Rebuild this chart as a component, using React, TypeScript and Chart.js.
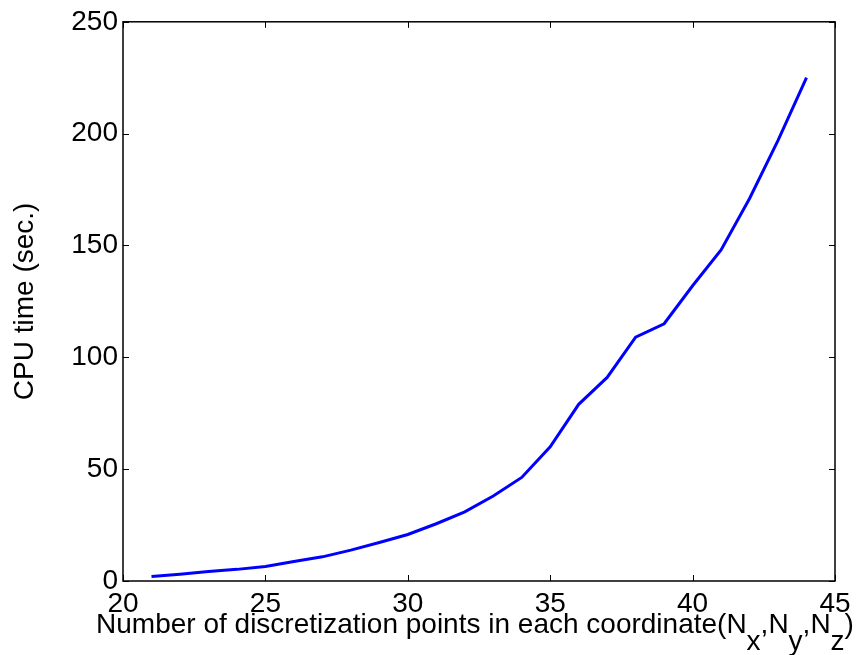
import React, { useEffect, useRef } from "react";
import { Chart, registerables } from "chart.js";

Chart.register(...registerables);

const gridPoints = [21, 22, 23, 24, 25, 26, 27, 28, 29, 30, 31, 32, 33, 34, 35, 36, 37, 38, 39, 40, 41, 42, 43, 44];
const cpuTimes = [2, 3, 4.2, 5.2, 6.5, 8.7, 10.8, 13.8, 17.2, 20.8, 25.6, 30.9, 38, 46.3, 60, 79, 91, 109, 115, 132, 148, 171, 197, 225];
const xTicks = [20, 25, 30, 35, 40, 45];
const yTicks = [0, 50, 100, 150, 200, 250];
const yTitle = "CPU time (sec.)";
const xTitleParts: Array<[string, boolean]> = [
  ["Number of discretization points in each coordinate(N", false],
  ["x", true],
  [",N", false],
  ["y", true],
  [",N", false],
  ["z", true],
  [")", false],
];

const FONT = '"Liberation Sans", Arial, Helvetica, sans-serif';

const framePlugin = {
  id: "matlabFrame",
  afterDraw(chart: any) {
    const { ctx, chartArea } = chart;
    const { left, right, top, bottom } = chartArea;
    const xs = chart.scales.x;
    const ys = chart.scales.y;
    ctx.save();
    ctx.strokeStyle = "#000";
    ctx.lineWidth = 1.5;
    ctx.strokeRect(left, top, right - left, bottom - top);
    const tl = 6;
    ctx.beginPath();
    xTicks.forEach((v) => {
      const px = Math.round(xs.getPixelForValue(v)) + 0.5;
      ctx.moveTo(px, bottom);
      ctx.lineTo(px, bottom - tl);
      ctx.moveTo(px, top);
      ctx.lineTo(px, top + tl);
    });
    yTicks.forEach((v) => {
      const py = Math.round(ys.getPixelForValue(v)) + 0.5;
      ctx.moveTo(left, py);
      ctx.lineTo(left + tl, py);
      ctx.moveTo(right, py);
      ctx.lineTo(right - tl, py);
    });
    ctx.lineWidth = 1;
    ctx.stroke();

    // x title with subscripts
    ctx.fillStyle = "#000";
    ctx.font = `28px ${FONT}`;
    ctx.textBaseline = "alphabetic";
    ctx.textAlign = "left";
    let total = 0;
    xTitleParts.forEach(([t]) => (total += ctx.measureText(t).width));
    let x = (left + right) / 2 - total / 2 - 4;
    const base = 633;
    xTitleParts.forEach(([t, sub]) => {
      ctx.fillText(t, x, sub ? base + 17 : base);
      x += ctx.measureText(t).width;
    });

    // y title
    ctx.translate(33, (top + bottom) / 2);
    ctx.rotate(-Math.PI / 2);
    ctx.textAlign = "center";
    ctx.fillText(yTitle, 0, 0);
    ctx.restore();
  },
};

export default function App() {
  const ref = useRef<HTMLCanvasElement>(null);
  useEffect(() => {
    document.body.style.margin = "0";
    const chart = new Chart(ref.current!, {
      type: "line",
      data: {
        datasets: [
          {
            data: gridPoints.map((g, i) => ({ x: g, y: cpuTimes[i] })),
            borderColor: "#0000ff",
            borderWidth: 3,
            pointRadius: 0,
            tension: 0,
            fill: false,
          },
        ],
      },
      options: {
        animation: false,
        responsive: false,
        layout: { padding: { top: 20, right: 27, left: 0, bottom: 0 } },
        plugins: { legend: { display: false }, tooltip: { enabled: false } },
        scales: {
          x: {
            type: "linear",
            min: 20,
            max: 45,
            afterFit: (s: any) => {
              s.height = 74;
            },
            afterBuildTicks: (s: any) => {
              s.ticks = xTicks.map((v) => ({ value: v }));
            },
            grid: { display: false, drawTicks: false },
            border: { display: false },
            ticks: {
              autoSkip: false,
              maxRotation: 0,
              padding: 6,
              color: "#000",
              font: { family: FONT, size: 28 },
            },
          },
          y: {
            type: "linear",
            min: 0,
            max: 250,
            afterFit: (s: any) => {
              s.width = 123;
            },
            afterBuildTicks: (s: any) => {
              s.ticks = yTicks.map((v) => ({ value: v }));
            },
            grid: { display: false, drawTicks: false },
            border: { display: false },
            ticks: {
              autoSkip: false,
              padding: 5,
              color: "#000",
              font: { family: FONT, size: 28 },
            },
          },
        },
      },
      plugins: [framePlugin],
    });
    return () => chart.destroy();
  }, []);
  return (
    <div style={{ position: "absolute", left: 0, top: 0, width: 862, height: 655, background: "#fff" }}>
      <canvas ref={ref} width={862} height={655} style={{ display: "block" }} />
    </div>
  );
}
